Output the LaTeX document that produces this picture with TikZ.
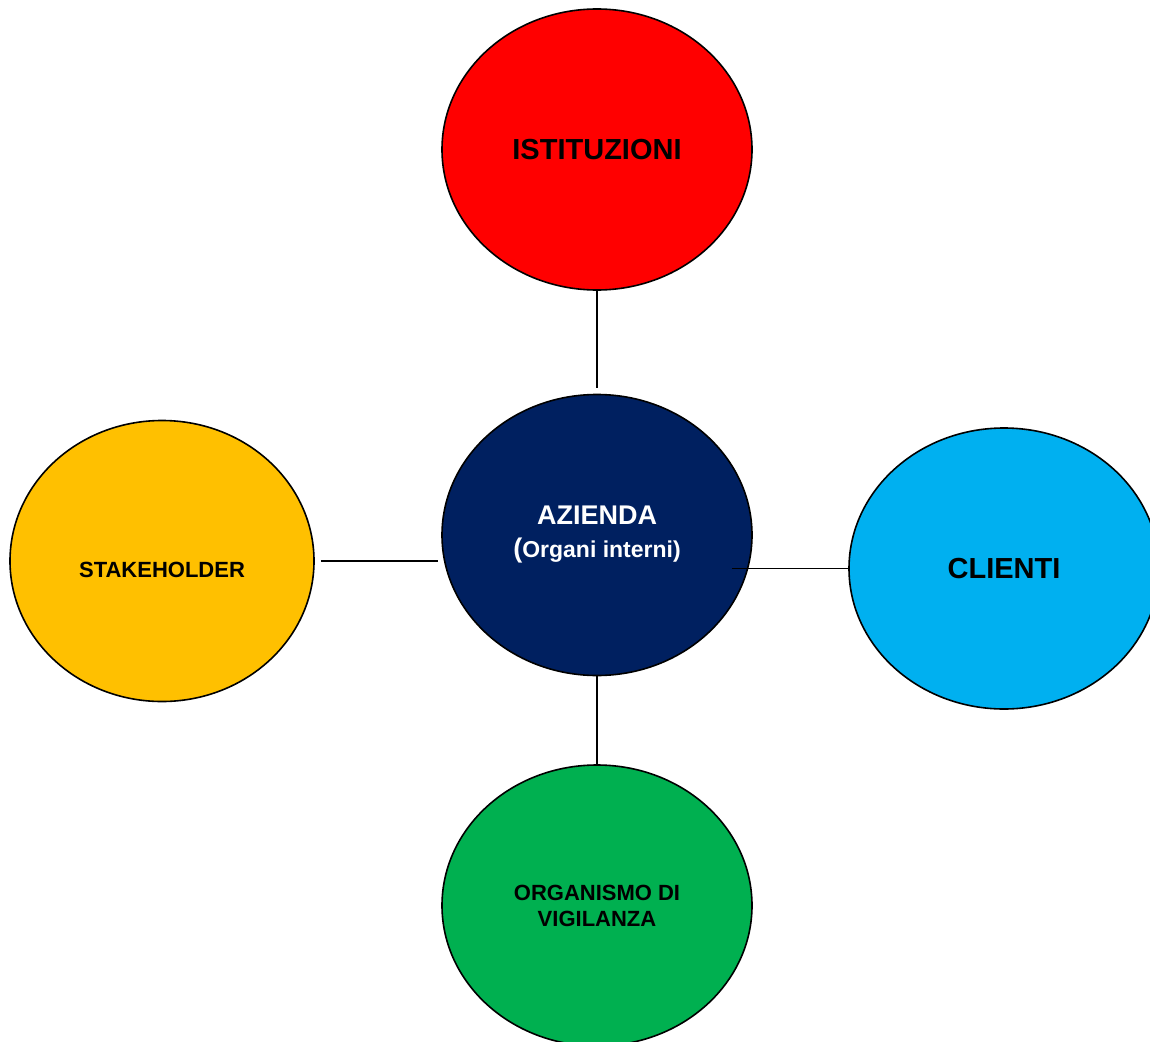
\documentclass[tikz,border=0pt]{standalone}
\usepackage{fontspec}
\setmainfont{Liberation Sans}
\usetikzlibrary{shapes.geometric}
\definecolor{cRed}{HTML}{FF0000}
\definecolor{cNavy}{HTML}{002060}
\definecolor{cYellow}{HTML}{FFC000}
\definecolor{cBlue}{HTML}{00B0F0}
\definecolor{cGreen}{HTML}{00B050}
\begin{document}
\begin{tikzpicture}[x=1pt,y=-1pt,
  bubble/.style={ellipse, draw=black, line width=1.6pt, inner sep=0pt,
    minimum width=310pt, minimum height=281pt, align=center},
  bigtxt/.style={font=\bfseries\fontsize{29}{34}\selectfont},
  smalltxt/.style={font=\bfseries\fontsize{22}{26}\selectfont},
  link/.style={draw=black, line width=1.6pt}]
\useasboundingbox (0,0) rectangle (1150,1041);
\node[bubble, fill=cRed, bigtxt] (ist) at (597,149.5) {ISTITUZIONI};
\node[bubble, fill=cNavy, text=white, font=\bfseries\fontsize{27}{33}\selectfont] (az) at (597,535)
  {AZIENDA\\(\fontsize{23}{33}\selectfont Organi interni)};
\node[bubble, fill=cYellow, minimum width=304pt] (st) at (162,561) {};
\node[smalltxt] (stl) at ([yshift=-9pt]st.center) {STAKEHOLDER};
\node[bubble, fill=cBlue, bigtxt] (cl) at (1004,568.5) {CLIENTI};
\node[bubble, fill=cGreen, smalltxt] (org) at (597,905.5) {ORGANISMO DI\\VIGILANZA};
\draw[link] (ist.south) -- ([yshift=6pt]az.north);
\draw[link] ([xshift=6pt]st.east) -- ([xshift=-3pt]az.west |- st.east);
\draw[link] ([xshift=-21pt]az.east |- cl.west) -- (cl.west);
\draw[link] (az.south) -- (org.north);
\end{tikzpicture}
\end{document}
